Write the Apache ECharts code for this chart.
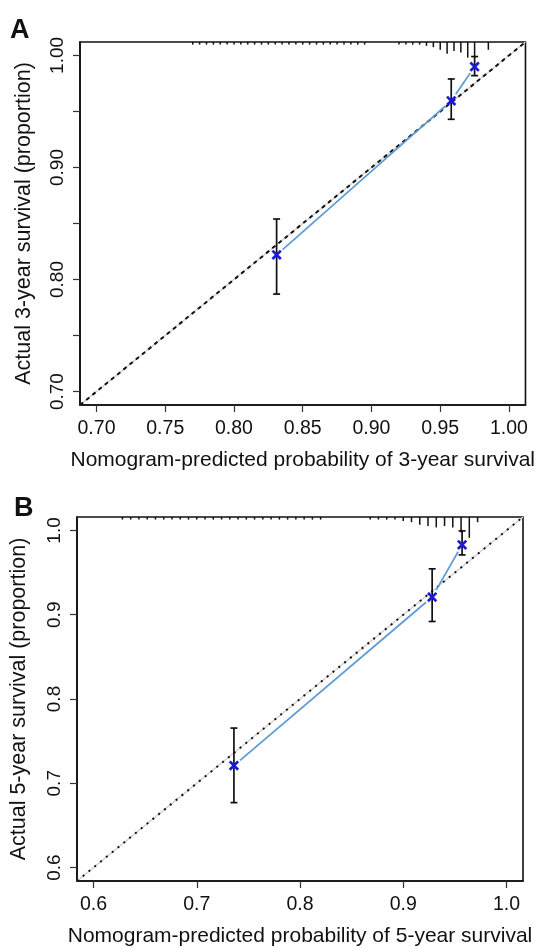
<!DOCTYPE html>
<html>
<head>
<meta charset="utf-8">
<script src="https://cdn.jsdelivr.net/npm/echarts@6/dist/echarts.min.js"></script>
<style>
  html, body { margin: 0; padding: 0; background: #fff; }
  #chart { width: 537px; height: 948px; }
</style>
</head>
<body>
<div id="chart"></div>
<script>
// ---------- Panel A : 3-year calibration ----------
const predA = [0.831, 0.958, 0.975];
const obsA  = [0.822, 0.9595, 0.990];
const lowA  = [0.787, 0.943, 0.982];
const highA = [0.854, 0.979, 0.999];
const xTicksA  = [0.70, 0.75, 0.80, 0.85, 0.90, 0.95, 1.00];
const xLabelsA = [0.70, 0.75, 0.80, 0.85, 0.90, 0.95, 1.00];
const yTicksA  = [0.70, 0.75, 0.80, 0.85, 0.90, 0.95, 1.00];
const yLabelsA = [0.70, 0.80, 0.90, 1.00];
const rangeA = [0.688, 1.012];
// distribution of predicted probabilities (top rug), relative frequency
const rugA_x = [0.770, 0.775, 0.780, 0.785, 0.790, 0.795, 0.800, 0.805, 0.810, 0.815,
                0.820, 0.825, 0.830, 0.835, 0.840, 0.845, 0.850, 0.855, 0.860, 0.865,
                0.870, 0.875, 0.880, 0.885, 0.890, 0.895,
                0.920, 0.925, 0.930, 0.935, 0.940, 0.945, 0.950, 0.955, 0.960, 0.965,
                0.970, 0.975, 0.985];
const rugA_f = [2, 2, 2, 2, 2, 2, 2, 2, 2, 2,
                2, 2, 2, 2, 2, 2, 2, 2, 2, 2,
                2, 2, 2, 2, 2, 2,
                2, 2, 2, 2, 3, 4, 6, 9, 7, 8,
                12, 12, 6];

// ---------- Panel B : 5-year calibration ----------
const predB = [0.736, 0.928, 0.957];
const obsB  = [0.721, 0.921, 0.983];
const lowB  = [0.677, 0.892, 0.971];
const highB = [0.7655, 0.9545, 0.9995];
const xTicksB  = [0.6, 0.7, 0.8, 0.9, 1.0];
const xLabelsB = [0.6, 0.7, 0.8, 0.9, 1.0];
const yTicksB  = [0.6, 0.7, 0.8, 0.9, 1.0];
const yLabelsB = [0.6, 0.7, 0.8, 0.9, 1.0];
const rangeB = [0.584, 1.016];
const rugB_x = [0.628, 0.636, 0.644, 0.652, 0.660, 0.668, 0.676, 0.684, 0.692, 0.700,
                0.708, 0.716, 0.724, 0.732, 0.740, 0.748, 0.756, 0.764, 0.772, 0.780,
                0.788, 0.796, 0.804, 0.812, 0.820,
                0.868, 0.876, 0.884, 0.892, 0.900, 0.908, 0.916, 0.924, 0.932, 0.940,
                0.948, 0.956, 0.964, 0.972];
const rugB_f = [2, 2, 2, 2, 2, 2, 2, 2, 2, 2,
                2, 2, 2, 2, 2, 2, 2, 2, 2, 2,
                2, 2, 2, 2, 2,
                2, 2, 2, 2, 3, 4, 6, 7, 8, 7,
                8, 12, 16, 4];

const titleAx = 'Nomogram-predicted probability of 3-year survival';
const titleAy = 'Actual 3-year survival (proportion)';
const titleBx = 'Nomogram-predicted probability of 5-year survival';
const titleBy = 'Actual 5-year survival (proportion)';

// ---------- styling ----------
const FONT = '"Liberation Sans", Arial, Helvetica, sans-serif';
const TXT = '#111';
const BLUE_LINE = '#5b9bd5';
const BLUE_MARK = '#1a1ad6';
const GAP = 8;        // px gap of the connecting line around points (type "b")
const RUG_PX = 1.3;   // px per frequency unit

const chart = echarts.init(document.getElementById('chart'), null, { renderer: 'canvas' });

function zip(...arrs) { return arrs[0].map((_, i) => arrs.map(a => a[i])); }
function segData(px, py) {
  const out = [];
  for (let i = 0; i < px.length - 1; i++) out.push([px[i], py[i], px[i + 1], py[i + 1]]);
  return out;
}

function segItem(params, api) {
  const a = api.coord([api.value(0), api.value(1)]);
  const b = api.coord([api.value(2), api.value(3)]);
  const dx = b[0] - a[0], dy = b[1] - a[1];
  const L = Math.hypot(dx, dy);
  const g = Math.min(GAP, L / 3);
  const ux = dx / L, uy = dy / L;
  return {
    type: 'line',
    shape: { x1: a[0] + ux * g, y1: a[1] + uy * g, x2: b[0] - ux * g, y2: b[1] - uy * g },
    style: { stroke: BLUE_LINE, lineWidth: 1.7 }
  };
}
function errItem(params, api) {
  const x = api.value(0);
  const top = api.coord([x, api.value(2)]);
  const bot = api.coord([x, api.value(1)]);
  const w = 3.5;
  const st = { stroke: '#111', lineWidth: 1.7 };
  return {
    type: 'group',
    children: [
      { type: 'line', shape: { x1: top[0], y1: top[1], x2: bot[0], y2: bot[1] }, style: st },
      { type: 'line', shape: { x1: top[0] - w, y1: top[1], x2: top[0] + w, y2: top[1] }, style: st },
      { type: 'line', shape: { x1: bot[0] - w, y1: bot[1], x2: bot[0] + w, y2: bot[1] }, style: st }
    ]
  };
}
function markItem(params, api) {
  const p = api.coord([api.value(0), api.value(1)]);
  const s = 4.2;
  const st = { stroke: BLUE_MARK, lineWidth: 2.7 };
  return {
    type: 'group',
    children: [
      { type: 'line', shape: { x1: p[0] - s, y1: p[1] - s, x2: p[0] + s, y2: p[1] + s }, style: st },
      { type: 'line', shape: { x1: p[0] - s, y1: p[1] + s, x2: p[0] + s, y2: p[1] - s }, style: st }
    ]
  };
}
function rugItemFor(yTop) {
  return function (params, api) {
    const p = api.coord([api.value(0), yTop]);
    const len = api.value(1) * RUG_PX;
    return {
      type: 'line',
      shape: { x1: p[0], y1: p[1], x2: p[0], y2: p[1] + len },
      style: { stroke: '#111', lineWidth: 1.5 }
    };
  };
}

function xAxisCfg(gi, range, ticks, labels, dec, name, gap) {
  return {
    gridIndex: gi, type: 'value', min: range[0], max: range[1],
    axisLine: { show: true, lineStyle: { color: '#111', width: 1.6 } },
    splitLine: { show: false },
    axisTick: { show: true, length: 7, customValues: ticks, lineStyle: { color: '#333', width: 1.2 } },
    axisLabel: {
      customValues: labels, formatter: v => v.toFixed(dec),
      margin: 14, fontSize: 19.5, color: TXT, fontFamily: FONT
    },
    name: name, nameLocation: 'middle', nameGap: gap,
    nameTextStyle: { fontSize: 21, color: TXT, fontFamily: FONT }
  };
}
function yAxisCfg(gi, range, ticks, labels, dec, name, gap) {
  return {
    gridIndex: gi, type: 'value', min: range[0], max: range[1],
    axisLine: { show: true, lineStyle: { color: '#111', width: 1.6 } },
    splitLine: { show: false },
    axisTick: { show: true, length: 7, customValues: ticks, lineStyle: { color: '#333', width: 1.2 } },
    axisLabel: {
      customValues: labels, formatter: v => v.toFixed(dec), rotate: 90,
      margin: 13, fontSize: 19, color: TXT, fontFamily: FONT
    },
    name: name, nameLocation: 'middle', nameGap: gap, nameRotate: 90,
    nameTextStyle: { fontSize: 21.5, color: TXT, fontFamily: FONT }
  };
}

function panelSeries(gi, range, px, py, lo, hi, rx, rf, diagType) {
  const diag = [[range[0], range[0]], [range[1], range[1]]];
  return [
    { type: 'line', xAxisIndex: gi, yAxisIndex: gi, data: diag, symbol: 'none', silent: true,
      lineStyle: { color: '#cfcfcf', width: 1.3, type: 'solid' }, z: 2 },
    { type: 'line', xAxisIndex: gi, yAxisIndex: gi, data: diag, symbol: 'none', silent: true,
      lineStyle: { color: '#111', width: 2, type: diagType }, z: 3 },
    { type: 'custom', xAxisIndex: gi, yAxisIndex: gi, renderItem: segItem,
      data: segData(px, py), encode: { x: [0, 2], y: [1, 3] }, z: 4, silent: true },
    { type: 'custom', xAxisIndex: gi, yAxisIndex: gi, renderItem: errItem,
      data: zip(px, lo, hi), encode: { x: 0, y: [1, 2] }, z: 5, silent: true },
    { type: 'custom', xAxisIndex: gi, yAxisIndex: gi, renderItem: markItem,
      data: zip(px, py), encode: { x: 0, y: 1 }, z: 6, silent: true },
    { type: 'custom', xAxisIndex: gi, yAxisIndex: gi, renderItem: rugItemFor(range[1]),
      data: zip(rx, rf), encode: { x: 0 }, z: 5, silent: true }
  ];
}

const option = {
  animation: false,
  backgroundColor: '#fff',
  grid: [
    { left: 80, top: 42, width: 446, height: 363, show: true, borderColor: '#111', borderWidth: 1.6, backgroundColor: 'transparent' },
    { left: 75, top: 517, width: 448, height: 364, show: true, borderColor: '#111', borderWidth: 1.6, backgroundColor: 'transparent' }
  ],
  xAxis: [
    xAxisCfg(0, rangeA, xTicksA, xLabelsA, 2, titleAx, 45),
    xAxisCfg(1, rangeB, xTicksB, xLabelsB, 1, titleBx, 45)
  ],
  yAxis: [
    yAxisCfg(0, rangeA, yTicksA, yLabelsA, 2, titleAy, 45),
    yAxisCfg(1, rangeB, yTicksB, yLabelsB, 1, titleBy, 47)
  ],
  graphic: [
    { type: 'text', left: 10, top: 17, style: { text: 'A', font: 'bold 27px ' + FONT, fill: '#111' } },
    { type: 'text', left: 14, top: 495, style: { text: 'B', font: 'bold 27px ' + FONT, fill: '#111' } }
  ],
  series: [
    ...panelSeries(0, rangeA, predA, obsA, lowA, highA, rugA_x, rugA_f, [4, 4]),
    ...panelSeries(1, rangeB, predB, obsB, lowB, highB, rugB_x, rugB_f, [2, 5.5])
  ]
};
chart.setOption(option);
</script>
</body>
</html>
